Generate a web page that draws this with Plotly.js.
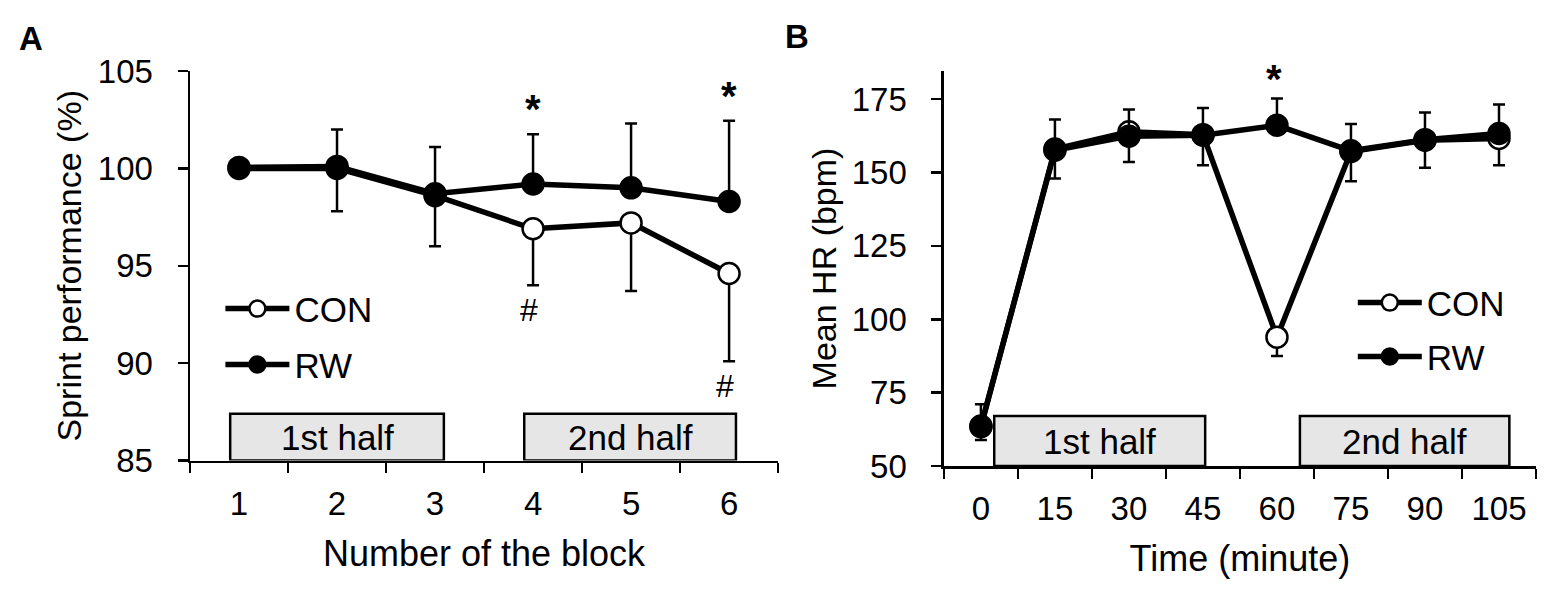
<!DOCTYPE html>
<html>
<head>
<meta charset="utf-8">
<script src="https://cdn.plot.ly/plotly-3.0.1.min.js"></script>
<style>
  html, body { margin: 0; padding: 0; background: #ffffff; }
  #grafico { width: 1562px; height: 604px; }
</style>
</head>
<body>
<div id="grafico"></div>
<script>
/* ============================================================================
 * Datos
 * ========================================================================== */

// Panel A: rendimiento de sprint por bloque
const bloques = ["1", "2", "3", "4", "5", "6"];
const sprintCON = [100.0, 100.0, 98.6, 96.9, 97.2, 94.6];
const sprintCONde = [0, 2.2, 2.6, 2.9, 3.5, 4.5];
const sprintRW = [100.05, 100.1, 98.7, 99.2, 99.0, 98.3];
const sprintRWde = [0, 1.9, 2.4, 2.55, 3.3, 4.15];

// Panel B: frecuencia cardiaca media por minuto
const minutos = ["0", "15", "30", "45", "60", "75", "90", "105"];
const fcCON = [63.4, 158.0, 163.9, 162.9, 93.9, 157.2, 161.0, 161.6];
const fcCONde = [4.5, 10.0, 10.3, 10.4, 6.45, 10.2, 9.4, 9.1];
const fcRW = [63.6, 157.6, 162.4, 162.7, 166.1, 157.4, 161.2, 163.3];
const fcRWde = [7.4, 10.5, 9.1, 9.3, 9.1, 9.1, 9.3, 9.9];

// Diferencias significativas
const asteriscosA = ["4", "6"];
const almohadillasA = ["4", "6"];
const asteriscosB = ["60"];

const etiquetasMitad = ["1st half", "2nd half"];


/* ============================================================================
 * Geometría de la página
 * ========================================================================== */

const ANCHO = 1562;
const ALTO = 604;
const IZQ = 189.6;
const DER = 1536.3;
const ARRIBA = 70.6;
const ABAJO = 466.5;
const FUENTE = "Liberation Sans, Arial, Helvetica, sans-serif";

const pw = DER - IZQ;
const ph = ABAJO - ARRIBA;
const px2x = (px) => (px - IZQ) / pw;
const py2y = (py) => (ABAJO - py) / ph;


/* ============================================================================
 * Funciones auxiliares
 * ========================================================================== */

function ceros(arr) {
    return arr.map(() => 0);
}

function serie(nombre, x, y, de, arriba, ejes, relleno, leyenda) {
    return {
        type: "scatter",
        mode: "lines+markers",
        name: nombre,
        x: x,
        y: y,
        xaxis: ejes[0],
        yaxis: ejes[1],
        legend: leyenda,
        line: { color: "#000000", width: 5.5 },
        marker: {
            size: 21,
            color: relleno,
            line: { color: "#000000", width: 2.5 }
        },
        error_y: {
            type: "data",
            symmetric: false,
            array: arriba ? de : ceros(de),
            arrayminus: arriba ? ceros(de) : de,
            color: "#000000",
            thickness: 2.5,
            width: 6
        },
        hoverinfo: "x+y"
    };
}

function caja(ejeX, ejeY, x0, x1, y0, y1) {
    return {
        type: "rect",
        xref: ejeX,
        yref: ejeY,
        x0: x0, x1: x1, y0: y0, y1: y1,
        fillcolor: "#e6e6e6",
        line: { color: "#000000", width: 2.5 },
        layer: "above"
    };
}

function texto(ejeX, ejeY, x, y, t, extra) {
    return Object.assign({
        xref: ejeX,
        yref: ejeY,
        x: x,
        y: y,
        text: t,
        showarrow: false,
        font: { family: FUENTE, size: 35, color: "#000000" }
    }, extra || {});
}

function ejeCategorias(dominio, ancla, cats, titulo) {
    return {
        type: "category",
        categoryorder: "array",
        categoryarray: cats,
        domain: dominio,
        anchor: ancla,
        range: [-0.5, cats.length - 0.5],
        tickson: "boundaries",
        ticks: "outside",
        ticklen: 10,
        tickwidth: 2.5,
        tickcolor: "#000000",
        showline: true,
        linecolor: "#000000",
        linewidth: 2.5,
        showgrid: false,
        zeroline: false,
        ticklabelstandoff: 12,
        tickfont: { family: FUENTE, size: 33, color: "#000000" },
        title: {
            text: titulo,
            standoff: 20,
            font: { family: FUENTE, size: 36, color: "#000000" }
        },
        fixedrange: true
    };
}

function ejeValores(dominio, ancla, rango, paso, titulo, separacion) {
    return {
        domain: dominio,
        anchor: ancla,
        range: rango,
        tick0: rango[0],
        dtick: paso,
        ticks: "outside",
        ticklen: 10,
        tickwidth: 2.5,
        tickcolor: "#000000",
        showline: true,
        linecolor: "#000000",
        linewidth: 2.5,
        showgrid: false,
        zeroline: false,
        ticklabelstandoff: 18,
        tickfont: { family: FUENTE, size: 33, color: "#000000" },
        title: {
            text: titulo,
            standoff: separacion,
            font: { family: FUENTE, size: 34, color: "#000000" }
        },
        fixedrange: true
    };
}

function leyendaEn(px, py) {
    return {
        x: px2x(px),
        y: py2y(py),
        xanchor: "left",
        yanchor: "middle",
        xref: "paper",
        yref: "paper",
        bgcolor: "rgba(0,0,0,0)",
        borderwidth: 0,
        itemwidth: 64,
        itemclick: false,
        itemdoubleclick: false,
        font: { family: FUENTE, size: 35, color: "#000000" }
    };
}


/* ============================================================================
 * Construcción del gráfico
 * ========================================================================== */

function crearGrafico() {

    const trazas = [
        serie("CON", bloques, sprintCON, sprintCONde, false, ["x", "y"], "#ffffff", "legend"),
        serie("RW", bloques, sprintRW, sprintRWde, true, ["x", "y"], "#000000", "legend2"),
        serie("CON", minutos, fcCON, fcCONde, false, ["x2", "y2"], "#ffffff", "legend3"),
        serie("RW", minutos, fcRW, fcRWde, true, ["x2", "y2"], "#000000", "legend4")
    ];

    // ============================================
    // Anotaciones de significación
    // (en ejes de categorías la x va como índice)
    // ============================================

    const anotaciones = [];
    const fuenteAsterisco = { family: FUENTE, size: 40, color: "#000000", weight: 700 };

    asteriscosA.forEach((c) => {
        const i = bloques.indexOf(c);
        anotaciones.push(texto("x", "y", i, sprintRW[i] + sprintRWde[i], "*",
            { yanchor: "bottom", yshift: 1, font: fuenteAsterisco }));
    });

    almohadillasA.forEach((c) => {
        const i = bloques.indexOf(c);
        anotaciones.push(texto("x", "y", i, sprintCON[i] - sprintCONde[i], "#",
            { yanchor: "top", yshift: -5, xshift: -4, font: { family: FUENTE, size: 32, color: "#000000" } }));
    });

    asteriscosB.forEach((c) => {
        const i = minutos.indexOf(c);
        anotaciones.push(texto("x2", "y2", i, fcRW[i] + fcRWde[i], "*",
            { yanchor: "bottom", yshift: -4, xshift: -3, font: fuenteAsterisco }));
    });

    // ============================================
    // Cajas de los tiempos del partido
    // ============================================

    const cajasA = [[-0.09, 2.09], [2.91, 5.07]];
    const cajasB = [[0.18, 3.03], [4.31, 7.14]];
    const formas = [];

    cajasA.forEach((c, k) => {
        formas.push(caja("x", "y", c[0], c[1], 85, 87.4));
        anotaciones.push(texto("x", "y", (c[0] + c[1]) / 2, 86.2, etiquetasMitad[k]));
    });

    cajasB.forEach((c, k) => {
        formas.push(caja("x2", "y2", c[0], c[1], 50, 67));
        anotaciones.push(texto("x2", "y2", (c[0] + c[1]) / 2, 58.5, etiquetasMitad[k]));
    });

    // ============================================
    // Letras de los paneles
    // ============================================

    const fuenteLetra = { family: FUENTE, size: 33, color: "#000000", weight: 700 };
    anotaciones.push(texto("paper", "paper", px2x(31), py2y(38), "A",
        { xanchor: "center", yanchor: "middle", font: fuenteLetra }));
    anotaciones.push(texto("paper", "paper", px2x(797), py2y(36), "B",
        { xanchor: "center", yanchor: "middle", font: fuenteLetra }));

    const layout = {
        width: ANCHO,
        height: ALTO,
        margin: { l: IZQ, r: ANCHO - DER, t: ARRIBA, b: ALTO - ABAJO, pad: 0 },
        paper_bgcolor: "#ffffff",
        plot_bgcolor: "#ffffff",
        showlegend: true,
        xaxis: ejeCategorias([0, px2x(778)], "y", bloques, "Number of the block"),
        yaxis: ejeValores([py2y(461), 1], "x", [85, 105], 5, "Sprint performance (%)", 6),
        xaxis2: ejeCategorias([px2x(943.9), 1], "y2", minutos, "Time (minute)"),
        yaxis2: ejeValores([0, 1], "x2", [50, 184.6], 25, "Mean HR (bpm)", 5),
        legend: leyendaEn(220, 309),
        legend2: leyendaEn(220, 365),
        legend3: leyendaEn(1353, 303),
        legend4: leyendaEn(1353, 357),
        shapes: formas,
        annotations: anotaciones
    };

    Plotly.newPlot("grafico", trazas, layout, { displayModeBar: false, staticPlot: true });
}


/* ============================================================================
 * Inicialización
 * ========================================================================== */

document.addEventListener("DOMContentLoaded", () => {

    crearGrafico();

});
</script>
</body>
</html>
